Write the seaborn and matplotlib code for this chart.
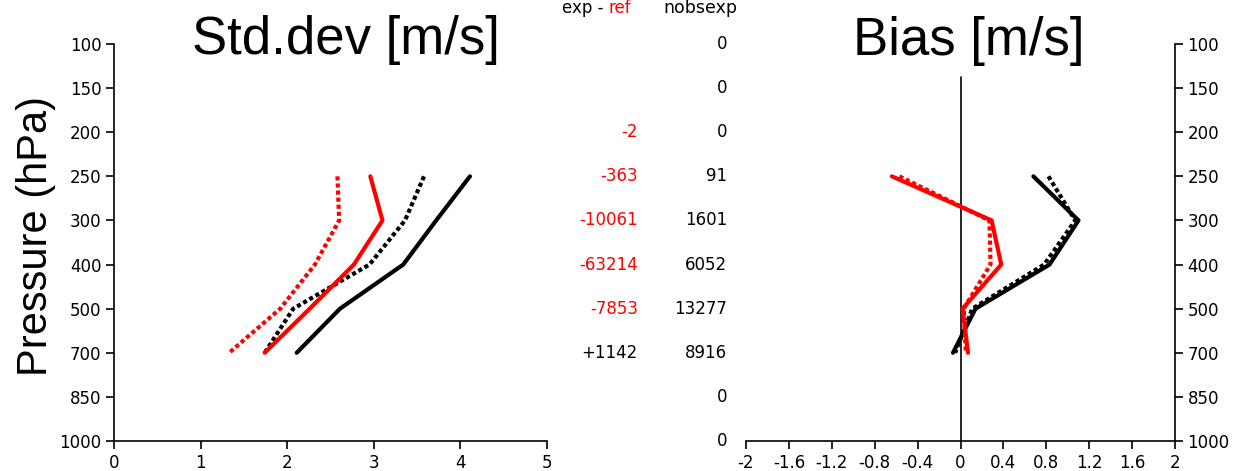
import matplotlib
matplotlib.use("Agg")
import matplotlib.pyplot as plt
import matplotlib.transforms as mtransforms
import numpy as np
import pandas as pd
import seaborn as sns

# Pressure levels (hPa), drawn equally spaced from top to bottom
levels = ["100", "150", "200", "250", "300", "400", "500", "700", "850", "1000"]
profile_levels = ["250", "300", "400", "500", "700"]

# Wind speed standard deviation (m/s)
std_exp = [4.11, 3.72, 3.34, 2.61, 2.11]
std_ref = [3.58, 3.36, 2.95, 2.07, 1.74]
std_exp_common = [2.96, 3.10, 2.77, 2.26, 1.74]
std_ref_common = [2.58, 2.60, 2.32, 1.92, 1.33]

# Wind speed bias (m/s)
bias_exp = [0.68, 1.10, 0.83, 0.14, -0.07]
bias_ref = [0.82, 1.07, 0.78, 0.11, -0.05]
bias_exp_common = [-0.64, 0.29, 0.38, 0.02, 0.07]
bias_ref_common = [-0.57, 0.27, 0.28, 0.03, 0.05]

# Observation counts per level
diff_counts = ["", "", "-2", "-363", "-10061", "-63214", "-7853", "+1142", "", ""]
nobs_exp = ["0", "0", "0", "91", "1601", "6052", "13277", "8916", "0", "0"]

std_xticks = [0, 1, 2, 3, 4, 5]
bias_xticks = [-2, -1.6, -1.2, -0.8, -0.4, 0, 0.4, 0.8, 1.2, 1.6, 2]
bias_xticklabels = ["-2", "-1.6", "-1.2", "-0.8", "-0.4", "0", "0.4", "0.8", "1.2", "1.6", "2"]

sns.set_theme(style="white")
plt.rcParams["font.family"] = ["DejaVu Sans"]
plt.rcParams["text.color"] = "black"
plt.rcParams["axes.labelcolor"] = "black"

pos = {lev: i for i, lev in enumerate(levels)}
ypos = [pos[l] for l in profile_levels]

fig = plt.figure(figsize=(12.55, 4.71), dpi=100)
ax1 = fig.add_axes([114 / 1255, 1 - 441 / 471, 433 / 1255, 397 / 471])
ax2 = fig.add_axes([746 / 1255, 1 - 441 / 471, 429 / 1255, 397 / 471])

dotted = (0, (1.0, 0.7))
series_std = [
    (std_exp, "black", "-"),
    (std_ref, "black", dotted),
    (std_exp_common, "red", "-"),
    (std_ref_common, "red", dotted),
]
series_bias = [
    (bias_exp, "black", "-"),
    (bias_ref, "black", dotted),
    (bias_exp_common, "red", "-"),
    (bias_ref_common, "red", dotted),
]

for ax, series in ((ax1, series_std), (ax2, series_bias)):
    for vals, col, ls in series:
        df = pd.DataFrame({"value": vals, "y": ypos})
        sns.lineplot(data=df, x="value", y="y", orient="y", sort=False,
                     estimator=None, color=col, linestyle=ls, linewidth=3.0,
                     ax=ax)

tick_kw = dict(direction="out", length=6, width=1.2, labelsize=12,
               colors="black", pad=3)

# Std.dev panel
ax1.set_xlim(0, 5)
ax1.set_ylim(len(levels) - 1, 0)
ax1.set_xticks(std_xticks)
ax1.set_xticklabels([str(t) for t in std_xticks])
ax1.set_yticks(range(len(levels)))
ax1.set_yticklabels(levels)
ax1.tick_params(axis="both", bottom=True, left=True, **tick_kw)
for s in ("top", "right"):
    ax1.spines[s].set_visible(False)
for s in ("left", "bottom"):
    ax1.spines[s].set_color("black")
    ax1.spines[s].set_linewidth(1.2)
ax1.set_xlabel("")
ax1.set_ylabel("")

# Bias panel
ax2.set_xlim(-2, 2)
ax2.set_ylim(len(levels) - 1, 0)
ax2.set_xticks(bias_xticks)
ax2.set_xticklabels(bias_xticklabels)
ax2.set_yticks(range(len(levels)))
ax2.set_yticklabels(levels)
ax2.yaxis.tick_right()
ax2.tick_params(axis="both", bottom=True, right=True, left=False, **tick_kw)
for s in ("top", "left"):
    ax2.spines[s].set_visible(False)
for s in ("right", "bottom"):
    ax2.spines[s].set_color("black")
    ax2.spines[s].set_linewidth(1.2)
ax2.axvline(0, ymin=0, ymax=1 - 0.75 / (len(levels) - 1), color="black",
            linewidth=1.2, zorder=1)
ax2.set_xlabel("")
ax2.set_ylabel("")

# Titles and axis label
title_font = ["Liberation Sans", "DejaVu Sans"]
fig.text(346 / 1255, 1 - 54 / 471, "Std.dev [m/s]", ha="center", va="baseline",
         fontsize=38, family=title_font, color="black")
fig.text(969 / 1255, 1 - 55 / 471, "Bias [m/s]", ha="center", va="baseline",
         fontsize=38, family=title_font, color="black")
fig.text(36 / 1255, 1 - 236 / 471, "Pressure (hPa)", ha="center", va="center",
         rotation=90, fontsize=30, family=title_font, color="black")

# Observation count columns between the panels
trans = mtransforms.blended_transform_factory(fig.transFigure, ax1.transData)
fig.text(562 / 1255, 1 - 8 / 471, "exp -", ha="left", va="center",
         fontsize=12, color="black")
fig.text(609 / 1255, 1 - 8 / 471, "ref", ha="left", va="center",
         fontsize=12, color="red")
fig.text(663 / 1255, 1 - 8 / 471, "nobsexp", ha="left", va="center",
         fontsize=12.5, color="black")
for i, (d, n) in enumerate(zip(diff_counts, nobs_exp)):
    if d:
        col = "red" if d.startswith("-") else "black"
        ax1.text(638 / 1255, i, d, transform=trans, ha="right", va="center",
                 fontsize=12, color=col, clip_on=False)
    ax1.text(727 / 1255, i, n, transform=trans, ha="right", va="center",
             fontsize=12, color="black", clip_on=False)

fig.savefig("out.png", dpi=100, facecolor="white")
